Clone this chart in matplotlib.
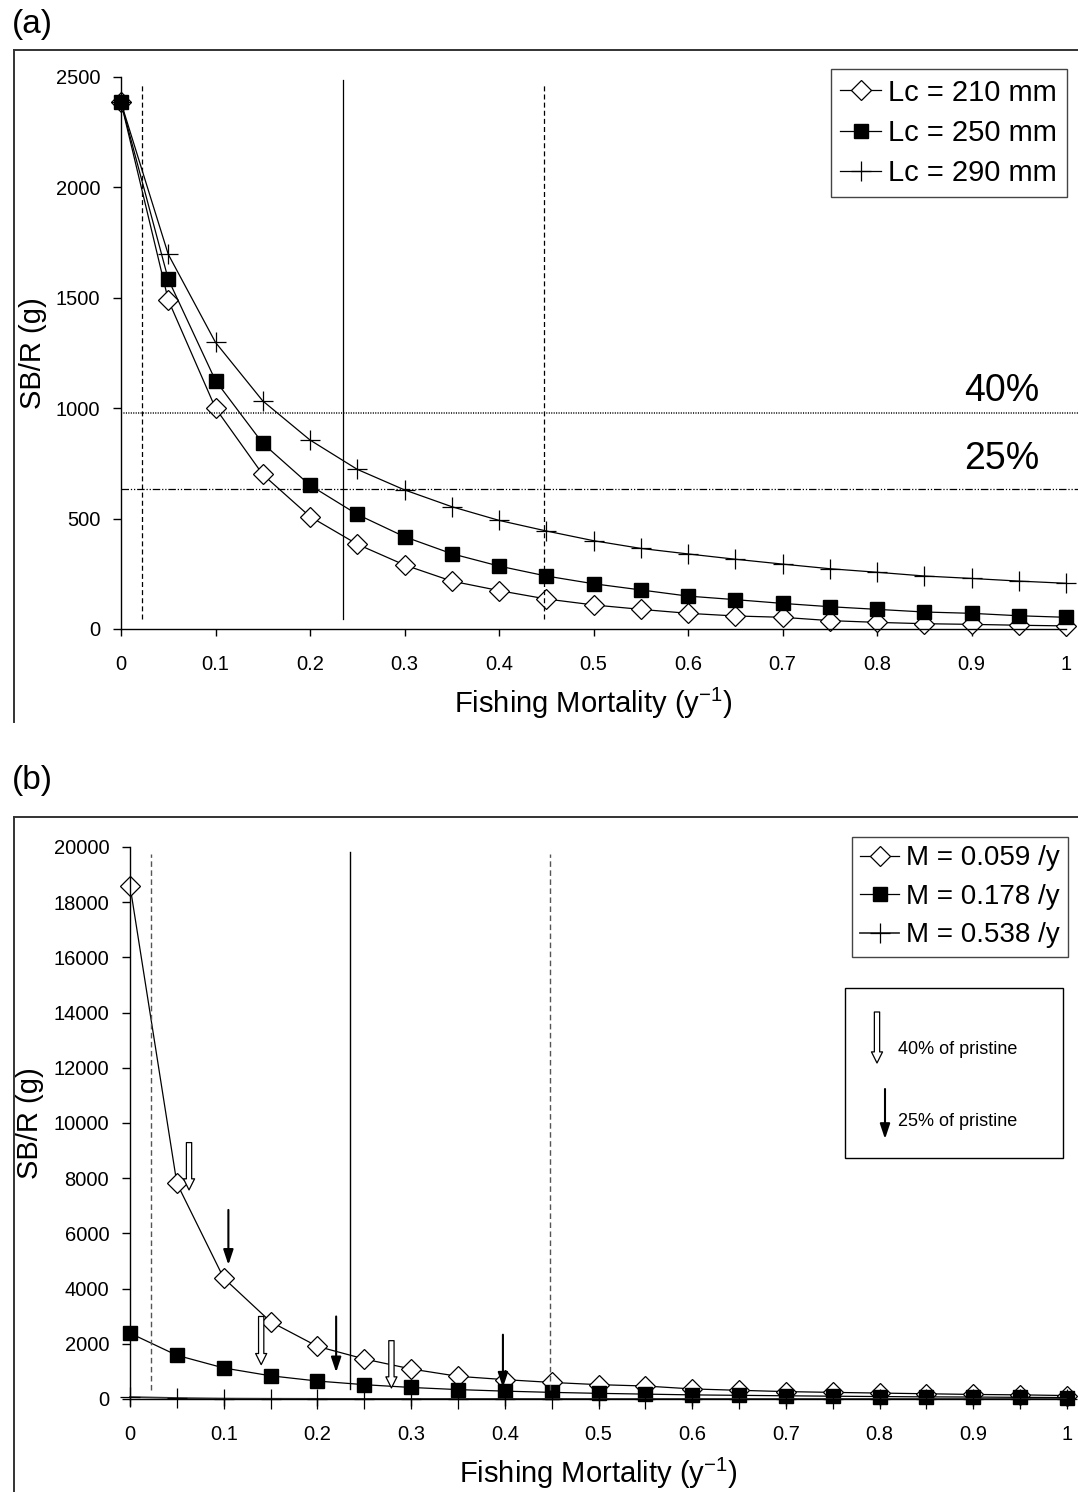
import matplotlib
matplotlib.use("Agg")
import matplotlib.pyplot as plt
from matplotlib.lines import Line2D
from matplotlib.patches import FancyArrowPatch, Rectangle

plt.rcParams['font.family'] = ['Liberation Sans', 'DejaVu Sans']

# ---------------- data ----------------
F = [0.00, 0.05, 0.10, 0.15, 0.20, 0.25, 0.30, 0.35, 0.40, 0.45, 0.50,
     0.55, 0.60, 0.65, 0.70, 0.75, 0.80, 0.85, 0.90, 0.95, 1.00]
x_tick_vals = [0, 0.1, 0.2, 0.3, 0.4, 0.5, 0.6, 0.7, 0.8, 0.9, 1.0]
x_tick_labels = ["0", "0.1", "0.2", "0.3", "0.4", "0.5", "0.6", "0.7", "0.8", "0.9", "1"]

# (a) spawning biomass per recruit by length at first capture
sbr_lc210 = [2385, 1490, 1000, 700, 509, 384, 290, 217, 174, 136, 109,
             89, 71, 59, 53, 38, 30, 24, 21, 17, 14]
sbr_lc250 = [2385, 1584, 1125, 841, 651, 519, 418, 341, 285, 240, 205,
             177, 149, 133, 116, 101, 89, 77, 71, 60, 53]
sbr_lc290 = [2385, 1697, 1298, 1033, 856, 723, 630, 554, 492, 444, 400,
             365, 340, 316, 294, 273, 257, 240, 229, 217, 207]
labels_a = ["Lc = 210 mm", "Lc = 250 mm", "Lc = 290 mm"]
yticks_a = [0, 500, 1000, 1500, 2000, 2500]
ref40_a = 980
ref25_a = 634

# (b) spawning biomass per recruit by natural mortality
sbr_m059 = [18600, 7820, 4380, 2800, 1907, 1450, 1088, 822, 702, 600, 520,
            470, 365, 315, 268, 240, 215, 190, 165, 150, 125]
sbr_m178 = [2385, 1584, 1125, 841, 651, 519, 418, 341, 285, 240, 205,
            177, 149, 133, 116, 101, 89, 77, 71, 60, 53]
sbr_m538 = [70, 35, 15, 8, 5, 3, 2, 1, 1, 1, 0,
            0, 0, 0, 0, 0, 0, 0, 0, 0, 0]
labels_b = ["M = 0.059 /y", "M = 0.178 /y", "M = 0.538 /y"]
yticks_b = [0, 2000, 4000, 6000, 8000, 10000, 12000, 14000, 16000, 18000, 20000]

# reference fishing mortalities (vertical lines)
f_low, f_mid, f_high = 0.022, 0.235, 0.448

# F at 40% and 25% of pristine SB/R for each M: (F, arrow top, arrow tip)
f40_arrows = [(0.063, 9290, 7575), (0.140, 2990, 1245), (0.279, 2113, 400)]
f25_arrows = [(0.105, 6850, 4860), (0.220, 2990, 966), (0.398, 2330, 410)]

# ---------------- figure ----------------
W, H = 1078, 1492
fig = plt.figure(figsize=(W / 100, H / 100), dpi=100)


def px_rect(x0, y0, x1, y1):
    """Axes rectangle from pixel corners (top-left origin)."""
    return [x0 / W, 1 - y1 / H, (x1 - x0) / W, (y1 - y0) / H]


def fx(x):
    return x / W


def fy(y):
    return 1 - y / H


ax_a = fig.add_axes(px_rect(121, 77, 1066, 629))
ax_b = fig.add_axes(px_rect(130, 847, 1067, 1399))

# outer panel frames (left and top edges)
for top, bottom in [(50, 722), (817, H + 5)]:
    fig.add_artist(Line2D([fx(14), fx(14)], [fy(top), fy(bottom)],
                          color='#333333', lw=1.4, transform=fig.transFigure))
    fig.add_artist(Line2D([fx(14), fx(W + 5)], [fy(top), fy(top)],
                          color='#333333', lw=1.4, transform=fig.transFigure))

fig.text(fx(12), fy(25), "(a)", fontsize=24, ha='left', va='center')
fig.text(fx(12), fy(781), "(b)", fontsize=24, ha='left', va='center')

line_kw = dict(color='black', lw=0.9, clip_on=False)
diamond_kw = dict(marker='D', markersize=10, markerfacecolor='white',
                  markeredgecolor='black', markeredgewidth=0.9)
square_kw = dict(marker='s', markersize=10, markerfacecolor='black',
                 markeredgecolor='black')
plus_kw = dict(marker='+', markersize=14, markeredgewidth=0.9,
               markeredgecolor='black')


def style_axes(ax, yticks, ymax, ylabel_x):
    ax.set_xlim(0, 1)
    ax.set_ylim(0, ymax)
    for s in ('top', 'right'):
        ax.spines[s].set_visible(False)
    for s in ('left', 'bottom'):
        ax.spines[s].set_linewidth(1.0)
    ax.set_xticks(x_tick_vals)
    ax.set_xticklabels(x_tick_labels)
    ax.set_yticks(yticks)
    ax.set_yticklabels([str(v) for v in yticks])
    ax.tick_params(axis='y', direction='out', length=6, width=1, pad=9,
                   labelsize=14.5)
    ax.tick_params(axis='x', direction='out', length=5, width=1, pad=14,
                   labelsize=14.5)
    ax.set_xlabel("Fishing Mortality (y$^{\\mathregular{-1}}$)", fontsize=21,
                  labelpad=8)
    ax.set_ylabel("SB/R (g)", fontsize=21)
    ax.yaxis.set_label_coords(ylabel_x, 0.5)
    ax.patch.set_alpha(0)


# ---------------- panel (a) ----------------
style_axes(ax_a, yticks_a, 2500, -0.078)
ax_a.plot(F, sbr_lc210, label=labels_a[0], **line_kw, **diamond_kw)
ax_a.plot(F, sbr_lc250, label=labels_a[1], **line_kw, **square_kw)
ax_a.plot(F, sbr_lc290, label=labels_a[2], **line_kw, **plus_kw)

ax_a.plot([f_low, f_low], [45, 2470], color='black', lw=0.9, ls=(0, (4, 2.5)))
ax_a.plot([f_mid, f_mid], [45, 2486], color='black', lw=0.9)
ax_a.plot([f_high, f_high], [45, 2470], color='black', lw=0.9, ls=(0, (4, 2.5)))

ax_a.axhline(ref40_a, xmin=0, xmax=1.02, color='black', lw=1.1,
             ls=(0, (0.7, 0.9)), clip_on=False)
ax_a.axhline(ref25_a, xmin=0, xmax=1.02, color='black', lw=0.9,
             ls=(0, (6, 1.5, 1, 1.5, 1, 1.5)), clip_on=False)
ax_a.text(0.972, 1078, "40%", fontsize=27, ha='right', va='center')
ax_a.text(0.972, 770, "25%", fontsize=27, ha='right', va='center')

leg_a = ax_a.legend(loc='upper right', bbox_to_anchor=(fx(1067), fy(69)),
                    bbox_transform=fig.transFigure, borderaxespad=0,
                    fontsize=21, handlelength=1.4, handletextpad=0.25,
                    labelspacing=0.42, borderpad=0.33, fancybox=False,
                    framealpha=1, edgecolor='#444444')
leg_a.get_frame().set_linewidth(1.0)

# ---------------- panel (b) ----------------
style_axes(ax_b, yticks_b, 20000, -0.092)
ax_b.plot(F, sbr_m059, label=labels_b[0], **line_kw, **diamond_kw)
ax_b.plot(F, sbr_m178, label=labels_b[1], **line_kw, **square_kw)
ax_b.plot(F, sbr_m538, label=labels_b[2], color='#333333', lw=1.3,
          clip_on=False, marker='+', markersize=14, markeredgewidth=0.9,
          markeredgecolor='black')

ax_b.plot([f_low, f_low], [340, 19750], color='#555555', lw=1.0, ls=(0, (4, 2.5)))
ax_b.plot([f_mid, f_mid], [375, 19830], color='black', lw=1.0)
ax_b.plot([f_high, f_high], [340, 19750], color='#555555', lw=1.0, ls=(0, (4, 2.5)))

open_arrow = dict(arrowstyle='simple,head_width=0.8,head_length=0.8,tail_width=0.38',
                  fc='white', ec='black', lw=0.9, shrinkA=0, shrinkB=0)
solid_arrow = dict(arrowstyle='-|>,head_width=0.3,head_length=0.9',
                   fc='black', ec='black', lw=1.5, shrinkA=0, shrinkB=0)
for f, top, tip in f40_arrows:
    ax_b.annotate("", xy=(f, tip), xytext=(f, top), arrowprops=open_arrow)
for f, top, tip in f25_arrows:
    ax_b.annotate("", xy=(f, tip), xytext=(f, top), arrowprops=solid_arrow)

leg_b = ax_b.legend(loc='upper right', bbox_to_anchor=(fx(1068), fy(837)),
                    bbox_transform=fig.transFigure, borderaxespad=0,
                    fontsize=20, handlelength=1.4, handletextpad=0.25,
                    labelspacing=0.45, borderpad=0.3, fancybox=False,
                    framealpha=1, edgecolor='#444444')
leg_b.get_frame().set_linewidth(1.0)

# key for the arrows
fig.add_artist(Rectangle((fx(845), fy(1158)), fx(1063) - fx(845),
                         fy(988) - fy(1158), transform=fig.transFigure,
                         fill=False, ec='black', lw=1.0))
fig.add_artist(FancyArrowPatch((fx(877), fy(1012)), (fx(877), fy(1063)),
                               transform=fig.transFigure, mutation_scale=10,
                               **open_arrow))
fig.add_artist(FancyArrowPatch((fx(885), fy(1089)), (fx(885), fy(1139)),
                               transform=fig.transFigure, mutation_scale=10,
                               **solid_arrow))
fig.text(fx(898), fy(1049), "40% of pristine", fontsize=13, ha='left', va='center')
fig.text(fx(898), fy(1122), "25% of pristine", fontsize=13, ha='left', va='center')

fig.savefig("out.png", dpi=100)
